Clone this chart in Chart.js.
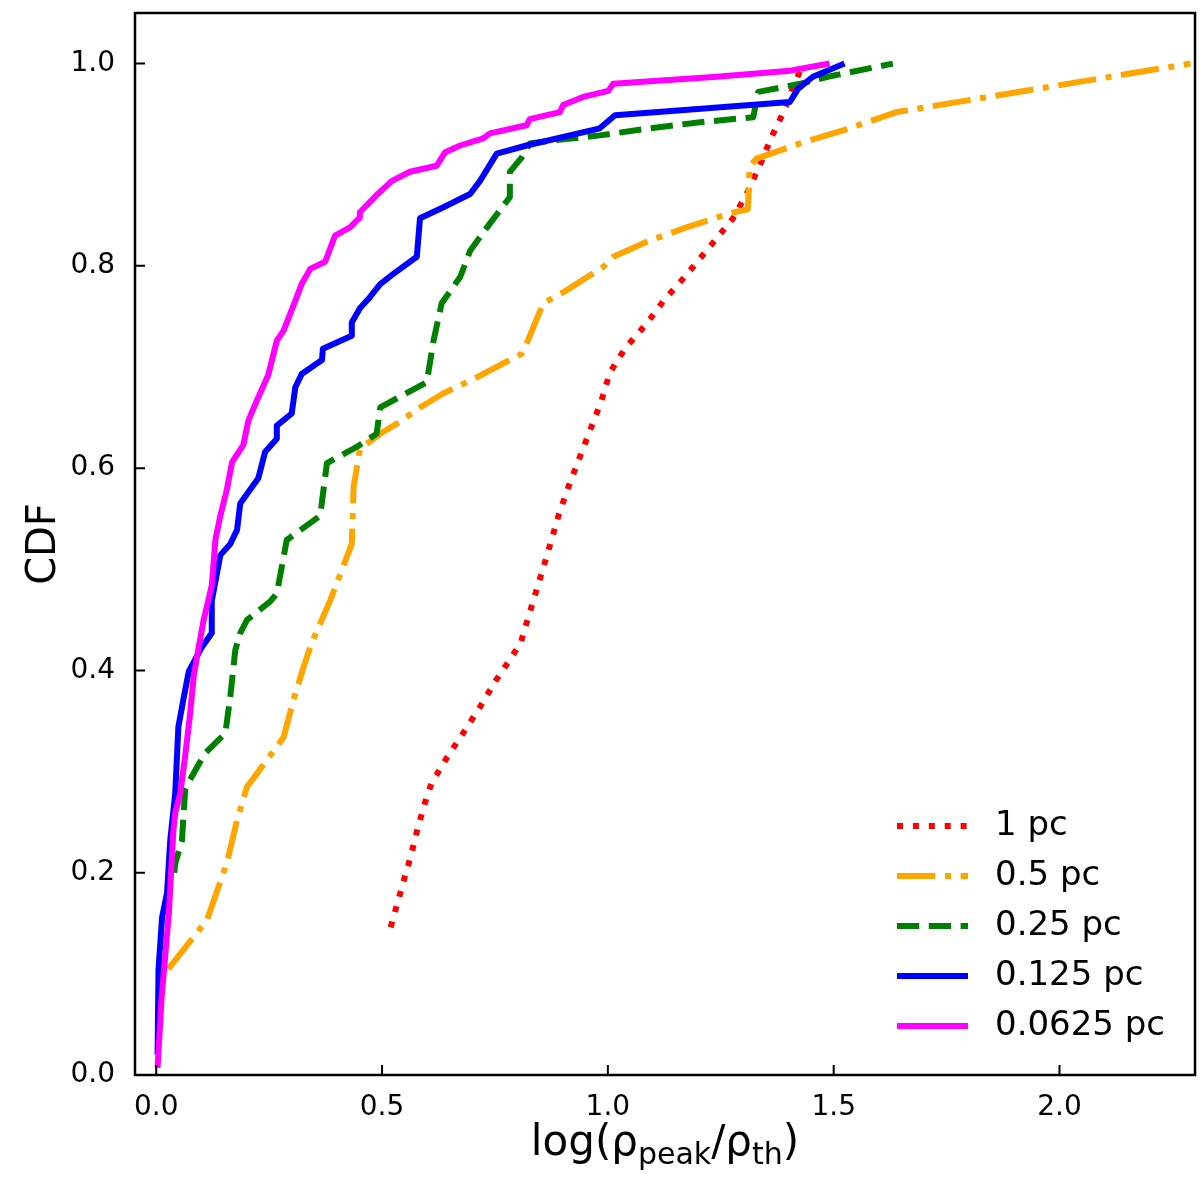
<!DOCTYPE html>
<html><head><meta charset="utf-8">
<script src="https://cdn.jsdelivr.net/npm/chart.js@4.4.1/dist/chart.umd.min.js"></script>
<style>html,body{margin:0;padding:0;background:#fff}#wrap{width:1200px;height:1190px;position:relative}</style>
</head><body><div id="wrap"><canvas id="c"></canvas></div>
<script>
// ---- data ----
const seriesLabels = ['1 pc', '0.5 pc', '0.25 pc', '0.125 pc', '0.0625 pc'];
const xTicks = [0.0, 0.5, 1.0, 1.5, 2.0];
const yTicks = [0.0, 0.2, 0.4, 0.6, 0.8, 1.0];

const x1pc = [0.519,0.546,0.564,0.580,0.599,0.610,0.644,0.681,0.717,0.752,0.788,0.807,0.816,0.835,0.864,0.892,0.914,0.938,0.962,0.986,1.004,1.023,1.041,1.086,1.126,1.170,1.233,1.277,1.307,1.336,1.362,1.392,1.414,1.429];
const y1pc = [0.146,0.189,0.217,0.246,0.275,0.289,0.314,0.339,0.364,0.390,0.414,0.427,0.441,0.469,0.512,0.555,0.583,0.611,0.639,0.667,0.694,0.708,0.720,0.743,0.767,0.789,0.823,0.847,0.871,0.899,0.927,0.955,0.981,0.996];

const x05pc = [0.027,0.112,0.156,0.179,0.201,0.223,0.282,0.304,0.326,0.344,0.385,0.433,0.437,0.451,0.496,0.533,0.584,0.636,0.702,0.809,0.820,0.857,0.909,0.990,1.012,1.093,1.174,1.270,1.310,1.313,1.313,1.329,1.425,1.521,1.639,2.290];
const y05pc = [0.105,0.153,0.209,0.252,0.285,0.298,0.334,0.371,0.403,0.427,0.469,0.525,0.581,0.619,0.634,0.644,0.660,0.674,0.688,0.713,0.723,0.763,0.776,0.799,0.809,0.825,0.838,0.852,0.856,0.884,0.898,0.906,0.921,0.934,0.952,1.000];

const x025pc = [0.040,0.042,0.057,0.064,0.075,0.108,0.153,0.164,0.175,0.186,0.201,0.252,0.267,0.289,0.363,0.378,0.444,0.488,0.496,0.599,0.614,0.632,0.673,0.695,0.739,0.783,0.783,0.809,0.827,0.879,0.982,1.093,1.204,1.322,1.333,1.425,1.498,1.631];
const y025pc = [0.200,0.209,0.232,0.282,0.292,0.318,0.338,0.374,0.420,0.437,0.450,0.468,0.476,0.529,0.553,0.605,0.621,0.634,0.660,0.685,0.726,0.763,0.789,0.815,0.842,0.868,0.893,0.907,0.921,0.924,0.929,0.936,0.942,0.947,0.972,0.980,0.988,1.000];

const x0125pc = [0.003,0.005,0.013,0.024,0.031,0.042,0.049,0.060,0.072,0.101,0.123,0.123,0.142,0.164,0.179,0.186,0.226,0.241,0.267,0.267,0.300,0.308,0.322,0.367,0.369,0.433,0.433,0.451,0.473,0.496,0.525,0.577,0.584,0.636,0.695,0.717,0.754,0.820,0.982,1.016,1.403,1.410,1.421,1.454,1.524];
const y0125pc = [0.020,0.104,0.156,0.180,0.232,0.278,0.344,0.371,0.399,0.423,0.437,0.469,0.514,0.525,0.539,0.565,0.590,0.616,0.629,0.642,0.654,0.680,0.693,0.707,0.718,0.731,0.744,0.758,0.769,0.782,0.792,0.809,0.847,0.858,0.871,0.884,0.911,0.919,0.936,0.949,0.962,0.967,0.975,0.987,1.000];

const x00625pc = [0.003,0.012,0.028,0.038,0.042,0.053,0.064,0.075,0.083,0.094,0.105,0.112,0.123,0.131,0.142,0.156,0.168,0.193,0.204,0.223,0.248,0.267,0.282,0.304,0.322,0.341,0.374,0.396,0.429,0.451,0.451,0.488,0.522,0.562,0.621,0.639,0.673,0.724,0.739,0.820,0.827,0.894,0.901,0.945,1.001,1.012,1.241,1.403,1.491];
const y00625pc = [0.007,0.077,0.160,0.242,0.259,0.278,0.315,0.357,0.394,0.423,0.450,0.463,0.484,0.529,0.553,0.578,0.606,0.623,0.647,0.667,0.692,0.726,0.736,0.761,0.782,0.797,0.804,0.830,0.838,0.848,0.853,0.870,0.884,0.893,0.899,0.912,0.919,0.926,0.931,0.939,0.945,0.952,0.959,0.967,0.973,0.980,0.987,0.993,1.000];

// ---- styling ----
const FONT = "'DejaVu Sans', 'Liberation Sans', sans-serif";
const LW = 6;
const zip = (xs, ys) => xs.map((x, i) => ({x: x, y: ys[i]}));

const styles = [
  {color: '#ff0000', dash: [LW, 1.65*LW], order: 5},
  {color: '#ffa500', dash: [6.4*LW, 1.6*LW, LW, 1.6*LW], order: 4},
  {color: '#008000', dash: [3.7*LW, 1.6*LW], order: 3},
  {color: '#0000ff', dash: [], order: 2},
  {color: '#ff00ff', dash: [], order: 1}
];
const xs = [x1pc, x05pc, x025pc, x0125pc, x00625pc];
const ys = [y1pc, y05pc, y025pc, y0125pc, y00625pc];

const datasets = seriesLabels.map((lab, i) => ({
  label: lab,
  data: zip(xs[i], ys[i]),
  showLine: true,
  borderColor: styles[i].color,
  backgroundColor: styles[i].color,
  borderWidth: LW,
  borderDash: styles[i].dash,
  borderCapStyle: 'butt',
  borderJoinStyle: 'round',
  pointRadius: 0,
  pointHoverRadius: 0,
  tension: 0,
  fill: false,
  order: styles[i].order
}));

const framePlugin = {
  id: 'frame',
  afterDraw(chart) {
    const {ctx, chartArea: a, scales} = chart;
    ctx.save();
    ctx.strokeStyle = '#000';
    ctx.lineWidth = 2;
    // inward ticks
    ctx.beginPath();
    xTicks.forEach(v => {
      const px = scales.x.getPixelForValue(v);
      ctx.moveTo(px, a.bottom); ctx.lineTo(px, a.bottom - 10);
    });
    yTicks.forEach(v => {
      const py = scales.y.getPixelForValue(v);
      ctx.moveTo(a.left, py); ctx.lineTo(a.left + 10, py);
    });
    ctx.stroke();
    ctx.lineWidth = 2.5;
    ctx.strokeRect(a.left, a.top, a.right - a.left, a.bottom - a.top);

    // y axis title
    ctx.fillStyle = '#000';
    ctx.save();
    ctx.translate(45, (a.top + a.bottom) / 2);
    ctx.rotate(-Math.PI / 2);
    ctx.font = '40px ' + FONT;
    ctx.textAlign = 'center';
    ctx.textBaseline = 'middle';
    ctx.fillText('CDF', 0, 0);
    ctx.restore();

    // x axis title with subscripts
    const parts = [
      {t: 'log(ρ', s: 42, dy: 0},
      {t: 'peak', s: 30, dy: 9},
      {t: '/ρ', s: 42, dy: 0},
      {t: 'th', s: 30, dy: 9},
      {t: ')', s: 42, dy: 0}
    ];
    let total = 0;
    parts.forEach(p => { ctx.font = p.s + 'px ' + FONT; p.w = ctx.measureText(p.t).width; total += p.w; });
    let x = (a.left + a.right) / 2 - total / 2;
    const base = a.bottom + 80;
    ctx.textAlign = 'left';
    ctx.textBaseline = 'alphabetic';
    parts.forEach(p => { ctx.font = p.s + 'px ' + FONT; ctx.fillText(p.t, x, base + p.dy); x += p.w; });

    // legend
    const x0 = a.right - 298, x1 = a.right - 227, tx = a.right - 200;
    let y = a.bottom - 249;
    chart.data.datasets.forEach(ds => {
      ctx.save();
      ctx.strokeStyle = ds.borderColor;
      ctx.lineWidth = LW;
      ctx.lineCap = 'butt';
      ctx.setLineDash(ds.borderDash);
      ctx.beginPath(); ctx.moveTo(x0, y); ctx.lineTo(x1, y); ctx.stroke();
      ctx.restore();
      ctx.font = '34px ' + FONT;
      ctx.fillStyle = '#000';
      ctx.textBaseline = 'middle';
      ctx.fillText(ds.label, tx, y);
      y += 50;
    });
    ctx.restore();
  }
};

new Chart(document.getElementById('c'), {
  type: 'scatter',
  data: {datasets: datasets},
  options: {
    responsive: true,
    maintainAspectRatio: false,
    devicePixelRatio: 1,
    animation: false,
    layout: {padding: {top: 13, right: 5, left: 0, bottom: 0}},
    plugins: {legend: {display: false}, tooltip: {enabled: false}},
    scales: {
      x: {
        type: 'linear', min: -0.047, max: 2.3,
        afterBuildTicks: s => { s.ticks = xTicks.map(v => ({value: v})); },
        afterFit: s => { s.height = 115; s.paddingLeft = 0; s.paddingRight = 0; },
        grid: {display: false}, border: {display: false},
        ticks: {color: '#000', font: {family: FONT, size: 28}, padding: 8, maxRotation: 0,
                callback: v => Number(v).toFixed(1)}
      },
      y: {
        type: 'linear', min: 0, max: 1.05,
        afterBuildTicks: s => { s.ticks = yTicks.map(v => ({value: v})); },
        afterFit: s => { s.width = 135; s.paddingTop = 0; s.paddingBottom = 0; },
        grid: {display: false}, border: {display: false},
        ticks: {color: '#000', font: {family: FONT, size: 28}, padding: 12,
                callback: v => Number(v).toFixed(1)}
      }
    }
  },
  plugins: [framePlugin]
});
</script>
</body></html>
